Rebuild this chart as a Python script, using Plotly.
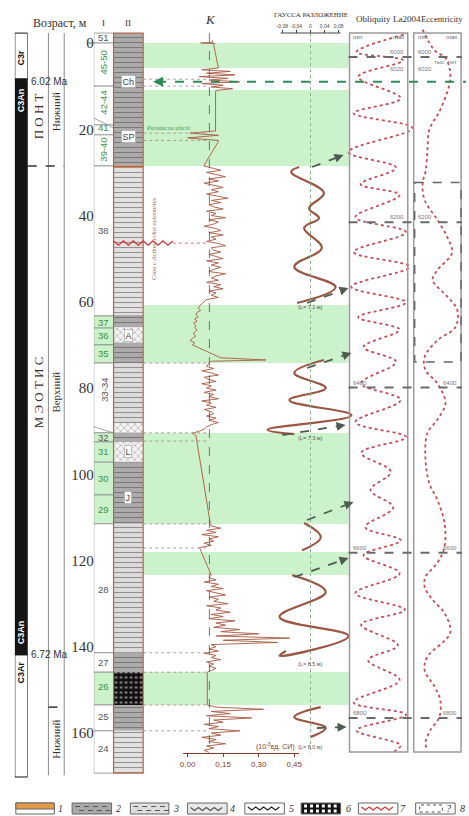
import math
import plotly.graph_objects as go

W, H = 469, 816
def fx(x): return x / W
def fy(y): return 1 - y / H

SERIF = "Liberation Serif"
SANS = "Liberation Sans"

# ---------------- data ----------------
depth_ticks = [0, 20, 40, 60, 80, 100, 120, 140, 160]

chron_names = ["C3r", "C3An", "C3Ar"]
chron_top = [-2.3, 8.35, 141.9]
chron_bot = [8.35, 141.9, 170.2]
chron_normal = [False, True, False]
chron_label_depth = [3.3, 13.2, 145.9]
chron_extra_label = ("C3An", 136.6)
chron_ages = ["6.02 Ma", "6.72 Ma"]
chron_age_depth = [9.0, 141.9]

bed_labels = ["51", "45-50", "42-44", "41", "39-40", "38", "37", "36", "35", "33-34",
              "32", "31", "30", "29", "28", "27", "26", "25", "24"]
bed_top = [-2.3, 0.0, 10.0, 19.0, 21.3, 28.5, 63.3, 66.1, 70.0, 74.2,
           90.4, 92.5, 97.2, 104.8, 111.5, 141.4, 145.9, 153.5, 159.5]
bed_bot = [0.0, 10.0, 19.0, 21.3, 28.5, 63.3, 66.1, 70.0, 74.2, 90.4,
           92.5, 97.2, 104.8, 111.5, 141.4, 145.9, 153.5, 159.5, 169.3]
bed_label_depth = [-1.2, 4.6, 13.9, 19.6, 24.8, 43.4, 64.7, 67.9, 72.1, 80.5,
                   91.4, 94.8, 100.9, 108.1, 126.8, 143.6, 149.3, 156.1, 163.5]
bed_green_text = [False, True, True, True, True, False, True, True, True, False,
                  False, True, True, True, False, False, True, False, False]
bed_green_bg = [False, False, False, False, False, False, True, True, True, False,
                True, True, True, True, False, False, True, False, False]

lith_top = [-2.3, 28.4, 28.9, 63.1, 65.9, 69.5, 74.2, 88.1, 90.4, 92.5, 97.2, 111.5, 141.4, 145.9, 153.5, 159.5]
lith_bot = [28.4, 28.9, 63.1, 65.9, 69.5, 74.2, 88.1, 90.4, 92.5, 97.2, 111.5, 141.4, 145.9, 153.5, 159.5, 169.3]
lith_type = [2, 1, 4, 2, 5, 2, 3, 5, 2, 5, 2, 3, 2, 6, 2, 4]

marker_names = ["Ch", "SP", "A", "L", "J"]
marker_depth = [9.0, 21.6, 67.9, 94.8, 105.5]

band_top = [0.0, 10.9, 60.75, 90.43, 118.03, 145.86]
band_bot = [5.8, 28.5, 74.2, 111.54, 123.36, 153.51]

link_depth = [8.4, 10.0, 20.9, 22.6, 74.2, 90.4, 92.3, 111.5, 117.1, 141.4, 145.9, 153.5, 159.5]

# magnetic susceptibility K (10^-3 SI) vs depth
K_depth_top = [-0.6, -0.1, 0.0, 0.1, 0.4, 5.8, 6.2, 6.6, 7.0, 7.4, 7.8, 8.2, 8.6, 9.0, 9.4, 9.8,
               10.2, 10.6, 11.0, 11.4, 20.4, 20.9, 21.4, 22.0, 22.6, 23.0, 28.5]
K_value_top = [0.105, 0.105, 0.055, 0.115, 0.11, 0.13, 0.06, 0.18, 0.08, 0.2, 0.05, 0.17, 0.09, 0.22, 0.06, 0.15,
               0.10, 0.19, 0.12, 0.118, 0.118, 0.01, 0.13, 0.0, 0.13, 0.128, 0.068]
K_depth_b = [29.0, 29.5, 30.0, 30.5, 31.0, 31.5, 32.0, 32.5, 33.0, 33.5, 34.0, 34.5, 35.0, 35.5, 36.0, 36.5,
             37.0, 37.5, 38.0, 38.5, 39.0, 39.5, 40.0, 40.5, 41.0, 41.5, 42.0, 42.5, 43.0, 43.5, 44.0, 44.5,
             45.0, 45.5, 46.0, 46.5, 47.0, 47.5, 48.0, 48.5, 49.0, 49.5, 50.0, 50.5, 51.0, 51.5, 52.0, 52.5,
             53.0, 53.5, 54.0, 54.5, 55.0, 55.5, 56.0, 56.5, 57.0, 57.5, 58.0, 58.5, 59.0, 59.5, 60.0, 60.5]
K_value_b = [0.10, 0.14, 0.08, 0.12, 0.16, 0.09, 0.13, 0.07, 0.11, 0.15,
             0.10, 0.13, 0.08, 0.12, 0.17, 0.10, 0.14, 0.09, 0.11, 0.15,
             0.08, 0.12, 0.10, 0.16, 0.09, 0.13, 0.11, 0.07, 0.12, 0.14,
             0.09, 0.15, 0.10, 0.12, 0.08, 0.13, 0.16, 0.10, 0.11, 0.14,
             0.09, 0.12, 0.15, 0.08, 0.13, 0.10, 0.14, 0.11, 0.09, 0.16,
             0.12, 0.10, 0.13, 0.08, 0.14, 0.11, 0.15, 0.09, 0.12, 0.10,
             0.13, 0.08, 0.07, 0.06]
K_depth_c = [61.0, 61.5, 62.0, 62.5, 63.0, 63.5, 64.0, 64.5, 65.0, 65.5, 66.0, 66.5, 67.0, 67.5,
             68.0, 68.5, 69.0, 69.5, 70.0, 70.5, 71.0, 71.5, 72.0, 72.5, 73.0, 73.5, 73.8, 74.2]
K_value_c = [0.05, 0.045, 0.055, 0.04, 0.035, 0.045, 0.03, 0.04, 0.025, 0.035, 0.03, 0.04, 0.03, 0.025,
             0.035, 0.02, 0.01, 0.03, 0.02, 0.04, 0.06, 0.08, 0.10, 0.12, 0.14, 0.33, 0.10, 0.09]
K_depth_d = [75.0, 75.5, 76.0, 76.5, 77.0, 77.5, 78.0, 78.5, 79.0, 79.5, 80.0, 80.5, 81.0, 81.5, 82.0, 82.5,
             83.0, 83.5, 84.0, 84.5, 85.0, 85.5, 86.0, 86.5, 87.0, 87.5, 88.0, 88.5, 89.0, 89.5, 90.0,
             90.5, 91.0, 111.5]
K_value_d = [0.08, 0.11, 0.06, 0.10, 0.13, 0.07, 0.09, 0.12, 0.06, 0.10,
             0.08, 0.12, 0.07, 0.11, 0.09, 0.13, 0.06, 0.10, 0.08, 0.12,
             0.07, 0.10, 0.11, 0.08, 0.12, 0.09, 0.13, 0.10, 0.08, 0.07, 0.05,
             0.02, 0.035, 0.096]
K_depth_e = [112.0, 112.5, 113.0, 113.5, 114.0, 114.5, 115.0, 115.5, 116.0, 116.5, 117.0, 123.4]
K_value_e = [0.10, 0.14, 0.08, 0.12, 0.06, 0.13, 0.09, 0.11, 0.07, 0.10, 0.05, 0.10]
K_depth_f = [124.0, 124.5, 125.0, 125.5, 126.0, 126.5, 127.0, 127.5, 128.0, 128.5, 129.0, 129.5, 130.0,
             130.5, 131.0, 131.5, 132.0, 132.5, 133.0, 133.5, 134.0, 134.5, 135.0, 135.5, 136.0, 136.5,
             137.0, 137.5, 138.0, 138.5, 139.0, 139.5, 140.0]
K_value_f = [0.09, 0.12, 0.07, 0.13, 0.10, 0.15, 0.08, 0.12, 0.16, 0.09,
             0.13, 0.11, 0.17, 0.08, 0.14, 0.12, 0.18, 0.10, 0.15, 0.09,
             0.20, 0.12, 0.16, 0.11, 0.22, 0.14, 0.30, 0.12, 0.43, 0.15,
             0.38, 0.10, 0.12]
K_depth_g = [140.5, 141.0, 141.5, 142.0, 142.5, 143.0, 143.5, 144.0, 144.5, 145.0, 145.5, 145.9, 153.5]
K_value_g = [0.09, 0.13, 0.07, 0.12, 0.10, 0.14, 0.08, 0.11, 0.09, 0.12, 0.10, 0.083, 0.083]
K_depth_h = [154.0, 154.5, 155.0, 155.5, 156.0, 156.5, 157.0, 157.5, 158.0, 158.5, 159.0, 159.5,
             160.0, 160.5, 161.0, 161.5, 162.0, 162.5, 163.0, 163.5, 164.0, 164.5]
K_value_h = [0.12, 0.32, 0.10, 0.18, 0.08, 0.27, 0.11, 0.15, 0.07, 0.13,
             0.09, 0.22, 0.10, 0.14, 0.06, 0.12, 0.09, 0.16, 0.08, 0.11, 0.07, 0.09]
K_baseline = 0.092
K_ticks = [0.0, 0.15, 0.30, 0.45]
K_ticktext = ["0,00", "0,15", "0,30", "0,45"]

# Gauss decomposition segments (depth, value)
gauss_depth = [
    [28.75, 29.9, 34.8, 38.3, 40.6, 42.9, 47.5, 51.9, 56.6, 60.3],
    [73.5, 76.5, 80.0, 82.8, 86.3, 89.7, 90.7],
    [111.3, 114.6, 117.6],
    [123.4, 127.3, 133.1, 137.5, 142.1, 141.0],
    [154.0, 156.3, 158.8, 160.9],
]
gauss_value = [
    [-0.032, -0.055, 0.038, -0.004, 0.024, -0.018, 0.032, -0.046, 0.071, -0.038],
    [0.038, -0.046, 0.043, -0.060, 0.116, -0.122, -0.046],
    [-0.018, 0.029, -0.024],
    [-0.052, 0.043, -0.088, 0.108, -0.088, -0.070],
    [0.029, -0.046, 0.043, 0.001],
]
gauss_L_labels = ["(L= 7.1 м)", "(L= 7.3 м)", "(L= 8.5 м)", "(L= 8.0 м)"]
gauss_L_depth = [61.3, 91.6, 144.0, 163.3]
gauss_ticks = [-0.08, -0.04, 0.0, 0.04, 0.08]
gauss_ticktext = ["-0,08", "-0,04", "0", "0,04", "0,08"]

# La2004 solution (age in kyr, normalised min..max)
obl_age = [5973, 5994, 6004, 6024, 6050, 6068, 6086, 6115, 6134, 6154, 6167, 6194, 6212, 6236, 6254,
           6278, 6297, 6315, 6330, 6351, 6369, 6395, 6415, 6442, 6460, 6479, 6502, 6524, 6545, 6569,
           6585, 6603, 6625, 6649, 6669, 6687, 6712, 6730, 6754, 6781, 6796, 6815, 6833, 6841]
obl_val = [0.93, 0.12, 0.92, 0.15, 0.88, 0.07, 1.08, -0.02, 0.80, 0.19, 0.86, 0.10, 0.97, 0.07, 1.03,
           0.03, 0.97, 0.15, 0.86, 0.24, 0.80, 0.20, 0.88, 0.10, 0.97, 0.20, 0.71, 0.36, 0.75, 0.27,
           0.88, 0.24, 0.86, 0.10, 0.95, 0.20, 0.83, 0.32, 0.86, 0.07, 0.97, 0.12, 0.88, 0.75]
ecc_age = [5967, 5992, 6001, 6018, 6034, 6064, 6088, 6113, 6139, 6152, 6173, 6197, 6218, 6237, 6258,
           6270, 6290, 6306, 6327, 6343, 6363, 6379, 6395, 6419, 6439, 6455, 6488, 6516, 6536, 6564,
           6593, 6612, 6629, 6641, 6657, 6673, 6697, 6726, 6742, 6762, 6778, 6799, 6815, 6830, 6839]
ecc_val = [0.19, 0.44, 0.67, 0.77, 0.75, 0.56, 0.33, 0.29, 0.25, 0.19, 0.23, 0.50, 0.71, 0.81, 0.50,
           0.40, 0.71, 0.92, 0.88, 0.50, 0.23, 0.25, 0.50, 0.67, 0.50, 0.29, 0.25, 0.33, 0.50, 0.65,
           0.65, 0.50, 0.25, 0.23, 0.40, 0.65, 0.77, 0.29, 0.23, 0.44, 0.56, 0.54, 0.35, 0.25, 0.29]
age_lines = [6000, 6200, 6400, 6600, 6800]
age_line_labels = ["6000", "6200", "6400", "6600", "6800"]
age_extra_label = ("6020", 6020)
ecc_box_age = [6152, 6369]

legend_numbers = ["1", "2", "3", "4", "5", "6", "7", "8"]

# ---------------- styles ----------------
LITH_STYLE = {
    1: dict(bg="#b5653a", shape="", fg="#b5653a"),
    2: dict(bg="#acacac", shape="-", fg="#6e6e6e"),
    3: dict(bg="#dcdcdc", shape="-", fg="#8f8f8f"),
    4: dict(bg="#e2e2e2", shape="-", fg="#808080"),
    5: dict(bg="#f4f4f4", shape="x", fg="#333333"),
    6: dict(bg="#111111", shape=".", fg="#ffffff"),
}
GREEN = "#ccf2cc"
DEPTH_RANGE = [179.246, -9.971]
AGE_RANGE = [6918.6, 5931.0]

fig = go.Figure()

# magnetic polarity column
fig.add_trace(go.Bar(
    orientation="h", y=[(t + b) / 2 for t, b in zip(chron_top, chron_bot)],
    x=[1] * len(chron_top), base=0, width=[b - t for t, b in zip(chron_top, chron_bot)],
    marker=dict(color=["#151515" if n else "white" for n in chron_normal], line=dict(color="#151515", width=1)),
    xaxis="x", yaxis="y", hoverinfo="skip", showlegend=False))

# bed-number column
fig.add_trace(go.Bar(
    orientation="h", y=[(t + b) / 2 for t, b in zip(bed_top, bed_bot)],
    x=[1] * len(bed_top), base=0, width=[b - t for t, b in zip(bed_top, bed_bot)],
    marker=dict(color=[GREEN if g else "white" for g in bed_green_bg], line=dict(color="#8c8c8c", width=0.8)),
    xaxis="x2", yaxis="y", hoverinfo="skip", showlegend=False))

# lithology column
fig.add_trace(go.Bar(
    orientation="h", y=[(t + b) / 2 for t, b in zip(lith_top, lith_bot)],
    x=[1] * len(lith_top), base=0, width=[b - t for t, b in zip(lith_top, lith_bot)],
    marker=dict(
        color=[LITH_STYLE[t]["bg"] for t in lith_type],
        line=dict(width=0),
        pattern=dict(shape=[LITH_STYLE[t]["shape"] for t in lith_type],
                     fgcolor=[LITH_STYLE[t]["fg"] for t in lith_type],
                     size=5, solidity=0.22, fillmode="overlay")),
    xaxis="x3", yaxis="y", hoverinfo="skip", showlegend=False))

# K curve
K_depth = K_depth_top + K_depth_b + K_depth_c + K_depth_d + K_depth_e + K_depth_f + K_depth_g + K_depth_h
K_value = K_value_top + K_value_b + K_value_c + K_value_d + K_value_e + K_value_f + K_value_g + K_value_h
fig.add_trace(go.Scatter(x=K_value, y=K_depth, mode="lines", line=dict(color="#a5583f", width=0.9),
                         xaxis="x4", yaxis="y", hoverinfo="skip", showlegend=False))

# Gauss segments
for gd, gv in zip(gauss_depth, gauss_value):
    fig.add_trace(go.Scatter(x=gv, y=gd, mode="lines", line=dict(color="#9a5744", width=2.2, shape="spline", smoothing=1.1),
                             xaxis="x5", yaxis="y", hoverinfo="skip", showlegend=False))

# obliquity & eccentricity
fig.add_trace(go.Scatter(x=obl_val, y=obl_age, mode="lines",
                         line=dict(color="#c24f5c", width=1.8, dash="dot", shape="spline", smoothing=1.0),
                         xaxis="x6", yaxis="y2", hoverinfo="skip", showlegend=False))
fig.add_trace(go.Scatter(x=ecc_val, y=ecc_age, mode="lines",
                         line=dict(color="#c24f5c", width=1.8, dash="dot", shape="spline", smoothing=1.0),
                         xaxis="x7", yaxis="y2", hoverinfo="skip", showlegend=False))

shapes = []
ann = []

def hline_depth(d, x0, x1, color, width=1, dash="solid", layer="above"):
    shapes.append(dict(type="line", xref="paper", yref="y", x0=fx(x0), x1=fx(x1), y0=d, y1=d,
                       line=dict(color=color, width=width, dash=dash), layer=layer))

# green bands
for t, b in zip(band_top, band_bot):
    shapes.append(dict(type="rect", xref="paper", yref="y", x0=fx(142), x1=fx(350), y0=t, y1=b,
                       fillcolor=GREEN, line=dict(width=0), layer="below"))

# column borders
for xx in (46, 62):
    shapes.append(dict(type="line", xref="paper", yref="y", x0=fx(xx), x1=fx(xx), y0=-2.3, y1=169.8,
                       line=dict(color="#8a8a8a", width=1)))
hline_depth(28.5, 25, 62, "#333", 1.5, "dash")
hline_depth(154.0, 46, 62, "#333", 1.5, "dash")
hline_depth(0.0, 85, 92, "#555", 1)
shapes.append(dict(type="rect", xref="paper", yref="y", x0=fx(112), x1=fx(142), y0=-2.3, y1=169.3,
                   line=dict(color="#b5654a", width=1.2)))
shapes.append(dict(type="line", xref="paper", yref="y", x0=fx(92), x1=fx(112), y0=17.4, y1=19.7,
                   line=dict(color="#8c8c8c", width=0.8)))
shapes.append(dict(type="line", xref="paper", yref="y", x0=fx(92), x1=fx(112), y0=89.0, y1=90.4,
                   line=dict(color="#8c8c8c", width=0.8)))

# dotted links
for d in link_depth:
    hline_depth(d, 142, 208, "#b09090", 0.9, "dot")

# diatom layer (red wavy) at 46.4 m
wx = [112 + 5 * i for i in range(13)]
path = "M " + " L ".join(f"{fx(x)},{46.4 + (0.5 if i % 2 else -0.5)}" for i, x in enumerate(wx))
shapes.append(dict(type="path", xref="paper", yref="y", path=path, line=dict(color="#d03a3a", width=1.3)))
hline_depth(46.4, 172, 208, "#d07070", 1, "dot")

# K baseline & Gauss zero line
shapes.append(dict(type="line", xref="x4", yref="y", x0=K_baseline, x1=K_baseline, y0=-2.3, y1=164.8,
                   line=dict(color="#555", width=0.8, dash="dash")))
shapes.append(dict(type="line", xref="x5", yref="y", x0=0, x1=0, y0=-2.3, y1=164.8,
                   line=dict(color="#8fae8f", width=1, dash="dot")))
shapes.append(dict(type="line", xref="x5", yref="paper", x0=-0.085, x1=0.085, y0=fy(33), y1=fy(33),
                   line=dict(color="#444", width=1)))

# orbital boxes
for x0, x1 in ((351, 410), (416, 464)):
    shapes.append(dict(type="rect", xref="paper", yref="paper", x0=fx(x0), x1=fx(x1), y0=fy(752), y1=fy(33),
                       line=dict(color="#9a9a9a", width=1.5)))
for a in age_lines:
    shapes.append(dict(type="line", xref="paper", yref="y2", x0=fx(350), x1=fx(465), y0=a, y1=a,
                       line=dict(color="#6a6a6a", width=2, dash="dash")))
shapes.append(dict(type="rect", xref="paper", yref="y2", x0=fx(417), x1=fx(464), y0=ecc_box_age[0], y1=ecc_box_age[1],
                   line=dict(color="#666", width=1.5, dash="dash")))

# green correlation line (Ch level)
hline_depth(9.0, 156, 469, "#2e8b57", 2, "dash")
ann.append(dict(x=fx(152), y=9.0, xref="paper", yref="y", ax=9, ay=0, text="", showarrow=True,
                arrowhead=2, arrowsize=1, arrowwidth=2, arrowcolor="#2e8b57"))

# dashed arrows (Gauss -> obliquity)
arrows = [((313, 167), (345, 155)), ((308, 303), (350, 288)), ((308, 368), (353, 353)),
          ((283, 435), (347, 425)), ((308, 520), (355, 502)), ((295, 577), (350, 558)),
          ((318, 728), (348, 727))]
for (x0, y0), (x1, y1) in arrows:
    L = math.hypot(x1 - x0, y1 - y0)
    shapes.append(dict(type="line", xref="paper", yref="paper", x0=fx(x0), y0=fy(y0),
                       x1=fx(x1 - 4 * (x1 - x0) / L), y1=fy(y1 - 4 * (y1 - y0) / L),
                       line=dict(color="#4f5a50", width=1.8, dash="dash")))
    ann.append(dict(x=fx(x1), y=fy(y1), xref="paper", yref="paper", ax=(x0 - x1) / L * 7, ay=(y0 - y1) / L * 7,
                    text="", showarrow=True, arrowhead=2, arrowsize=1, arrowwidth=1.8, arrowcolor="#4f5a50"))

# ---------------- annotations ----------------
def txt(x, y, s, size=10, color="#333", font=SERIF, angle=0, xref="paper", yref="paper", xanchor="center",
        yanchor="middle", **kw):
    d = dict(x=x, y=y, xref=xref, yref=yref, text=s, showarrow=False, textangle=angle,
             font=dict(family=font, size=size, color=color), xanchor=xanchor, yanchor=yanchor)
    d.update(kw)
    ann.append(d)

txt(fx(58), fy(23), "Возраст, м", 12)
txt(fx(102), fy(23), "I", 9)
txt(fx(127), fy(23), "II", 9)
txt(fx(210), fy(19), "<i>K</i>", 13)
txt(fx(312), fy(15), "ГАУССА РАЗЛОЖЕНИЕ", 7)
txt(fx(356), fy(19), "Obliquity", 9, xanchor="left")
txt(fx(393), fy(19), "La2004", 9, xanchor="left")
txt(fx(468), fy(19), "Eccentricity", 8.6, xanchor="right")
for x, s, anc in ((353, "min", "left"), (408, "max", "right"), (418, "min", "left"), (462, "max", "right")):
    txt(fx(x), fy(37), s, 6, "#666", SANS, xanchor=anc)

# age labels in orbital boxes
for a, s in zip(age_lines, age_line_labels):
    if a < 6300:
        txt(fx(408), a, s, 6, "#777", SANS, yref="y2", xanchor="right", yanchor="bottom")
        txt(fx(418), a, s, 6, "#777", SANS, yref="y2", xanchor="left", yanchor="bottom")
    else:
        txt(fx(353), a, s, 6, "#777", SANS, yref="y2", xanchor="left", yanchor="bottom")
        txt(fx(462), a, s, 6, "#777", SANS, yref="y2", xanchor="right", yanchor="bottom")
txt(fx(408), age_extra_label[1], age_extra_label[0], 6, "#777", SANS, yref="y2", xanchor="right", yanchor="bottom")
txt(fx(418), age_extra_label[1], age_extra_label[0], 6, "#777", SANS, yref="y2", xanchor="left", yanchor="bottom")
txt(fx(462), 6000, "тыс. лет", 6, "#777", SANS, yref="y2", xanchor="right", yanchor="top")

# chrons
for name, d, normal in zip(chron_names, chron_label_depth, chron_normal):
    txt(fx(18.5), d, f"<b>{name}</b>", 9, "white" if normal else "#111", SANS, angle=-90, yref="y")
txt(fx(18.5), chron_extra_label[1], f"<b>{chron_extra_label[0]}</b>", 9, "white", SANS, angle=-90, yref="y")
for s, d in zip(chron_ages, chron_age_depth):
    txt(fx(26), d, s, 10, "#333", SANS, yref="y", xanchor="left")

txt(fx(35.5), 17.0, "П О Н Т", 13, "#333", SERIF, angle=-90, yref="y")
txt(fx(54), 16.0, "Нижний", 11, "#333", SERIF, angle=-90, yref="y")
txt(fx(35.5), 81.0, "М Э О Т И С", 13, "#333", SERIF, angle=-90, yref="y")
txt(fx(54), 81.0, "Верхний", 11, "#333", SERIF, angle=-90, yref="y")
txt(fx(54), 161.5, "Нижний", 11, "#333", SERIF, angle=-90, yref="y")

# bed labels
for s, d, g in zip(bed_labels, bed_label_depth, bed_green_text):
    txt(fx(102), d, s, 9.5, "#3f8f3f" if g else "#555", SANS,
        angle=-90 if "-" in s else 0, yref="y")

# lithology markers
for s, d in zip(marker_names, marker_depth):
    txt(fx(127), d, s, 9, "#444", SANS, yref="y", bgcolor="white", bordercolor="#999", borderwidth=0.6, borderpad=1)

txt(fx(167), 19.6, "<i>Paradacna abichi</i>", 6, "#4c9a4c", SERIF, yref="y")
txt(fx(152), 45.5, "<i>Слои с Actinocyclus octonarius</i>", 6.5, "#b35a5a", SERIF, angle=-90, yref="y")

for s, d in zip(gauss_L_labels, gauss_L_depth):
    txt(0, d, s, 5.5, "#555", SANS, xref="x5", yref="y")

txt(fx(276), fy(746), "(10<sup>-3</sup>ед. СИ)", 7, "#8b3a2a", SANS)

# ---------------- legend ----------------
leg_x = [(13, 52), (70, 110), (129, 168), (187, 227), (245, 285), (302, 342), (360, 400), (418, 458)]
leg_fill = ["white", "#a9a9a9", "#dedede", "#e8e8e8", "white", "#111111", "white", "white"]
leg_num_x = [58, 117, 175, 232, 292, 350, 405, 465]
LY0, LY1 = 803, 814
for (x0, x1), fc in zip(leg_x, leg_fill):
    shapes.append(dict(type="rect", xref="paper", yref="paper", x0=fx(x0), x1=fx(x1), y0=fy(LY1), y1=fy(LY0),
                       fillcolor=fc, line=dict(color="#666", width=1)))
shapes.append(dict(type="rect", xref="paper", yref="paper", x0=fx(13), x1=fx(52), y0=fy(809), y1=fy(803),
                   fillcolor="#e39b4a", line=dict(color="#666", width=1)))
for (x0, x1) in (leg_x[1], leg_x[2]):
    for xx in range(x0 + 3, x1 - 4, 9):
        shapes.append(dict(type="line", xref="paper", yref="paper", x0=fx(xx), x1=fx(xx + 5), y0=fy(806.5), y1=fy(806.5),
                           line=dict(color="#555", width=1)))
        shapes.append(dict(type="line", xref="paper", yref="paper", x0=fx(xx + 4), x1=fx(xx + 9), y0=fy(810.5), y1=fy(810.5),
                           line=dict(color="#555", width=1)))
for (x0, x1), col, yy in ((leg_x[3], "#555", 809), (leg_x[4], "#222", 808.5), (leg_x[6], "#d03a3a", 808.5)):
    pts = [(x0 + 3 + 4 * i, yy + (1.5 if i % 2 else -1.5)) for i in range(int((x1 - x0 - 6) / 4) + 1)]
    p = "M " + " L ".join(f"{fx(a)},{fy(b)}" for a, b in pts)
    shapes.append(dict(type="path", xref="paper", yref="paper", path=p, line=dict(color=col, width=1.2)))
for xx in range(305, 340, 6):
    for yy in (806, 811):
        shapes.append(dict(type="rect", xref="paper", yref="paper", x0=fx(xx), x1=fx(xx + 3), y0=fy(yy + 1.5), y1=fy(yy - 1.5),
                           fillcolor="white", line=dict(width=0)))
shapes.append(dict(type="rect", xref="paper", yref="paper", x0=fx(422), x1=fx(445), y0=fy(812), y1=fy(805),
                   line=dict(color="#555", width=1, dash="dot")))
txt(fx(451), fy(808.5), "<i>?</i>", 10, "#333", SERIF)
for s, x in zip(legend_numbers, leg_num_x):
    txt(fx(x), fy(808.5), f"<i>{s}</i>", 10, "#333", SERIF)

# ---------------- layout ----------------
hidden = dict(visible=False, showgrid=False, zeroline=False, fixedrange=True)
fig.update_layout(
    width=W, height=H, margin=dict(l=0, r=0, t=0, b=0),
    paper_bgcolor="white", plot_bgcolor="rgba(0,0,0,0)",
    barmode="overlay", showlegend=False,
    yaxis=dict(range=DEPTH_RANGE, domain=[0, 1], anchor="free", position=fx(92), tickvals=depth_ticks,
               ticks="", showgrid=False, zeroline=False, showline=False,
               tickfont=dict(family=SERIF, size=15, color="#333")),
    yaxis2=dict(range=AGE_RANGE, overlaying="y", visible=False, showgrid=False, zeroline=False),
    xaxis=dict(domain=[fx(12), fx(25)], range=[0, 1], anchor="y", **hidden),
    xaxis2=dict(domain=[fx(92), fx(112)], range=[0, 1], anchor="y", **hidden),
    xaxis3=dict(domain=[fx(112), fx(142)], range=[0, 1], anchor="y", **hidden),
    xaxis4=dict(domain=[fx(182), fx(300)], range=[-0.0208, 0.4708], anchor="free", position=fy(753),
                tickvals=K_ticks, ticktext=K_ticktext, ticks="outside", ticklen=3, tickcolor="#8b3a2a",
                showline=True, linecolor="#8b3a2a", linewidth=1, showgrid=False, zeroline=False, tickangle=0,
                tickfont=dict(family=SANS, size=8, color="#8b3a2a")),
    xaxis5=dict(domain=[fx(260), fx(360)], range=[-0.1442, 0.1358], anchor="free", position=fy(33), side="top",
                tickvals=gauss_ticks, ticktext=gauss_ticktext, ticks="outside", ticklen=3, tickcolor="#444",
                showline=False, showgrid=False, zeroline=False, tickangle=0,
                tickfont=dict(family=SANS, size=5, color="#444")),
    xaxis6=dict(domain=[fx(346), fx(420)], range=[-0.0847, 1.169], anchor="y2", **hidden),
    xaxis7=dict(domain=[fx(412), fx(468)], range=[-0.0833, 1.0833], anchor="y2", **hidden),
    shapes=shapes, annotations=ann,
)

fig.write_html("out.html", config={"displayModeBar": False},
               post_script="document.body.style.margin='0px';document.body.style.overflow='hidden';")
